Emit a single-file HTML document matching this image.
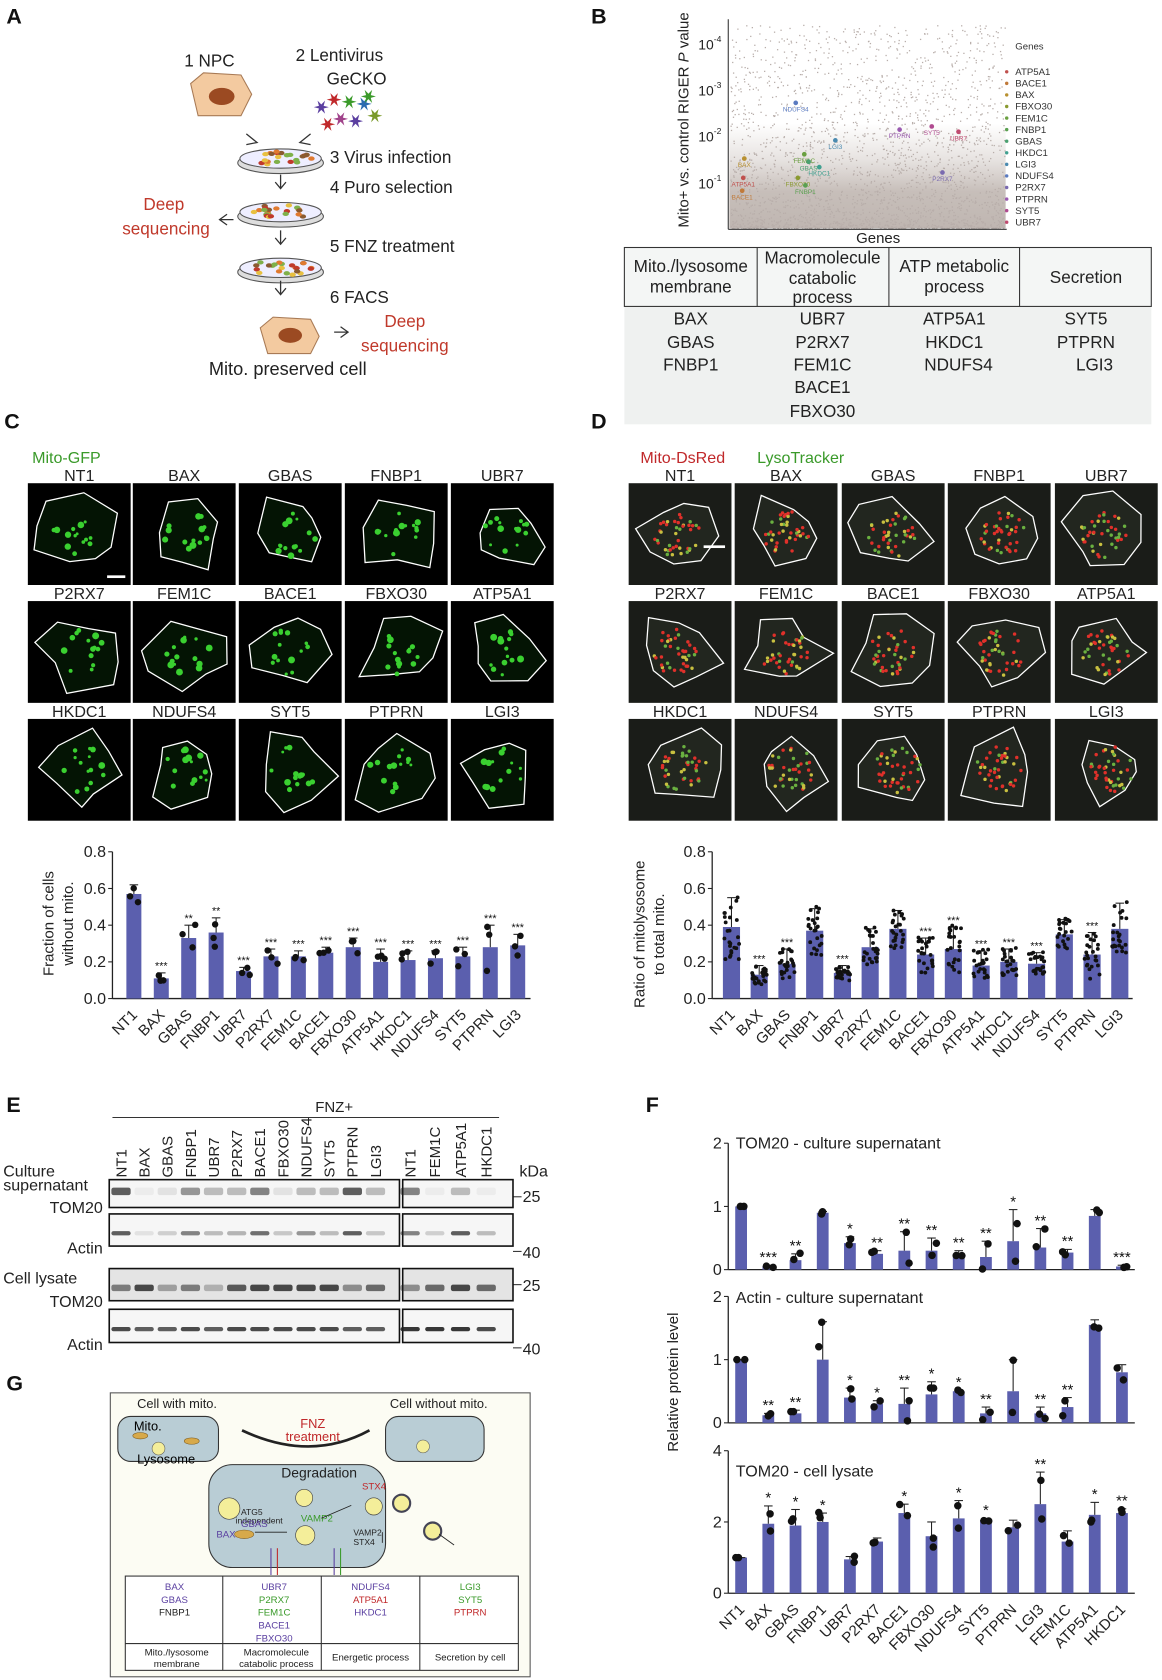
<!DOCTYPE html>
<html><head><meta charset="utf-8">
<style>
html,body{margin:0;padding:0;background:#fff;}
svg{display:block;font-family:"Liberation Sans",sans-serif;}
</style></head>
<body>
<svg id="S" xmlns="http://www.w3.org/2000/svg" width="1162" height="1680" viewBox="0 0 1085 1568" preserveAspectRatio="none">
<rect width="1085" height="1568" fill="#fff"/>
<g font-weight="bold" font-size="20" fill="#111">
<text x="6" y="22">A</text><text x="552" y="22">B</text><text x="4" y="400">C</text>
<text x="552" y="400">D</text><text x="6" y="1038">E</text><text x="603" y="1038">F</text><text x="6" y="1298">G</text>
</g>

<g font-size="16" fill="#222">
<text x="172" y="62">1  NPC</text>
<text x="276" y="57">2  Lentivirus</text><text x="305" y="79">GeCKO</text>
<text x="308" y="152">3  Virus infection</text>
<text x="308" y="180">4  Puro selection</text>
<text x="308" y="235">5  FNZ treatment</text>
<text x="308" y="283">6  FACS</text>
<text x="195" y="350" font-size="17">Mito. preserved cell</text>
</g>
<g font-size="16" fill="#c0392b" text-anchor="middle">
<text x="153" y="196">Deep</text><text x="155" y="219">sequencing</text>
<text x="378" y="305">Deep</text><text x="378" y="328">sequencing</text>
</g>
<polygon points="178,78 190,68 225,70 235,88 225,108 185,108" fill="#f3caa0" stroke="#a87a55"/>
<ellipse cx="207" cy="90" rx="12" ry="8" fill="#9b4a22"/>
<polygon points="243,306 255,296 290,298 298,314 290,330 250,330" fill="#f3caa0" stroke="#a87a55"/>
<ellipse cx="271" cy="313" rx="11" ry="7" fill="#9b4a22"/>
<g id="stars"></g>
<g id="dishes"></g>
<g stroke="#333" fill="none" stroke-width="1.2">
<path d="M230 125 l10 8 l-10 2"/><path d="M290 125 l-10 8 l10 2"/>
<path d="M262 163 v12 M257 170 l5 6 l5 -6"/>
<path d="M262 215 v12 M257 222 l5 6 l5 -6"/>
<path d="M262 262 v12 M257 269 l5 6 l5 -6"/>
<path d="M218 205 l-12 0 M212 200 l-7 5 l7 5"/>
<path d="M312 310 l12 0 M318 305 l7 5 l-7 5"/>
</g>

<defs>
<linearGradient id="gg" x1="0" y1="0" x2="0" y2="1">
<stop offset="0" stop-color="#c9c0bb" stop-opacity="0"/>
<stop offset="0.35" stop-color="#c9c0bb" stop-opacity="0.45"/>
<stop offset="0.65" stop-color="#c4bbb6" stop-opacity="0.95"/>
<stop offset="1" stop-color="#bfb6b1"/>
</linearGradient>
</defs>
<rect x="681" y="115" width="258" height="98" fill="url(#gg)"/>
<g id="scat"></g>
<line x1="680" y1="18" x2="680" y2="214" stroke="#333"/>
<line x1="680" y1="214" x2="940" y2="214" stroke="#333"/>
<g font-size="13" fill="#222">
<text x="652" y="46">10<tspan font-size="8" dy="-7">-4</tspan></text>
<text x="652" y="89">10<tspan font-size="8" dy="-7">-3</tspan></text>
<text x="652" y="132">10<tspan font-size="8" dy="-7">-2</tspan></text>
<text x="652" y="176">10<tspan font-size="8" dy="-7">-1</tspan></text>
</g>
<text transform="translate(643,112) rotate(-90)" text-anchor="middle" font-size="14" fill="#222">Mito+ vs. control RIGER <tspan font-style="italic">P</tspan> value</text>
<text x="820" y="227" text-anchor="middle" font-size="14" fill="#222">Genes</text>
<text x="948" y="46" font-size="9" fill="#333">Genes</text>
<g id="bleg" font-size="9" fill="#333"></g>
<rect x="583" y="286" width="492" height="110" fill="#eff1f0"/>
<rect x="583" y="231" width="492" height="55" fill="#f4f6f5" stroke="#333"/>
<g stroke="#333"><line x1="707" y1="231" x2="707" y2="286"/><line x1="830" y1="231" x2="830" y2="286"/><line x1="952" y1="231" x2="952" y2="286"/></g>
<g font-size="16" fill="#222" text-anchor="middle">
<text x="645" y="254">Mito./lysosome</text><text x="645" y="273">membrane</text>
<text x="768" y="246">Macromolecule</text><text x="768" y="265">catabolic</text><text x="768" y="283">process</text>
<text x="891" y="254">ATP metabolic</text><text x="891" y="273">process</text>
<text x="1014" y="264">Secretion</text>
<text x="645" y="303">BAX</text><text x="645" y="325">GBAS</text><text x="645" y="346">FNBP1</text>
<text x="768" y="303">UBR7</text><text x="768" y="325">P2RX7</text><text x="768" y="346">FEM1C</text><text x="768" y="367">BACE1</text><text x="768" y="389">FBXO30</text>
<text x="891" y="303">ATP5A1</text><text x="891" y="325">HKDC1</text><text x="895" y="346">NDUFS4</text>
<text x="1014" y="303">SYT5</text><text x="1014" y="325">PTPRN</text><text x="1022" y="346">LGI3</text>
</g>

<text x="30" y="432" font-size="15" fill="#3a9a2a">Mito-GFP</text>
<text x="598" y="432" font-size="15" fill="#c0282a">Mito-DsRed</text>
<text x="707" y="432" font-size="15" fill="#3a9a2a">LysoTracker</text>
<g id="imgs"></g>

<g id="charts"></g>
<text transform="translate(50,862) rotate(-90)" text-anchor="middle" font-size="14" fill="#222">Fraction of cells</text>
<text transform="translate(68,862) rotate(-90)" text-anchor="middle" font-size="14" fill="#222">without mito.</text>
<text transform="translate(602,872) rotate(-90)" text-anchor="middle" font-size="14" fill="#222">Ratio of mitolysosome</text>
<text transform="translate(620,872) rotate(-90)" text-anchor="middle" font-size="14" fill="#222">to total mito.</text>
<text transform="translate(633,1290) rotate(-90)" text-anchor="middle" font-size="14" fill="#222">Relative protein level</text>
<g font-size="15" fill="#222">
<text x="687" y="1072">TOM20 - culture supernatant</text>
<text x="687" y="1216">Actin - culture supernatant</text>
<text x="687" y="1378">TOM20 - cell lysate</text>
</g>

<text x="312" y="1038" text-anchor="middle" font-size="14" fill="#222">FNZ+</text>
<line x1="105" y1="1043" x2="466" y2="1043" stroke="#333"/>
<g id="lanes" font-size="14" fill="#222"></g>
<g font-size="15" fill="#222">
<text x="3" y="1098">Culture</text><text x="3" y="1111">supernatant</text>
<text x="96" y="1132" text-anchor="end">TOM20</text>
<text x="96" y="1170" text-anchor="end">Actin</text>
<text x="3" y="1198">Cell lysate</text>
<text x="96" y="1220" text-anchor="end">TOM20</text>
<text x="96" y="1260" text-anchor="end">Actin</text>
<text x="485" y="1098">kDa</text>
<text x="488" y="1122">25</text><text x="488" y="1174">40</text>
<text x="488" y="1205">25</text><text x="488" y="1264">40</text>
</g>
<g stroke="#333"><line x1="479" y1="1117" x2="487" y2="1117"/><line x1="479" y1="1168" x2="487" y2="1168"/><line x1="479" y1="1199" x2="487" y2="1199"/><line x1="479" y1="1258" x2="487" y2="1258"/></g>
<g id="blots"></g>

<rect x="103" y="1300" width="392" height="265" fill="#fcfcf3" stroke="#555"/>
<g font-size="12" fill="#222">
<text x="128" y="1314">Cell with mito.</text><text x="364" y="1314">Cell without mito.</text>
</g>
<rect x="110" y="1322" width="94" height="42" rx="12" fill="#b9cdd5" stroke="#333"/>
<rect x="360" y="1322" width="92" height="42" rx="12" fill="#b9cdd5" stroke="#333"/>
<text x="125" y="1335" font-size="12">Mito.</text><text x="128" y="1366" font-size="12">Lysosome</text>
<ellipse cx="131" cy="1340" rx="7" ry="3" fill="#d7a94a" stroke="#7a5a20" stroke-width=".5"/>
<ellipse cx="179" cy="1345" rx="7" ry="3" fill="#d7a94a" stroke="#7a5a20" stroke-width=".5"/>
<circle cx="148" cy="1352" r="6" fill="#f4ee9a" stroke="#555" stroke-width=".5"/>
<circle cx="395" cy="1350" r="6" fill="#f4ee9a" stroke="#555" stroke-width=".5"/>
<path d="M226 1335 Q290 1365 345 1335" fill="none" stroke="#222" stroke-width="2.5"/>
<text x="292" y="1333" text-anchor="middle" font-size="12" fill="#c0282a">FNZ</text>
<text x="292" y="1345" text-anchor="middle" font-size="12" fill="#c0282a">treatment</text>
<rect x="195" y="1367" width="165" height="96" rx="22" fill="#b9cdd5" stroke="#333"/>
<text x="298" y="1379" text-anchor="middle" font-size="13" fill="#222">Degradation</text>
<g fill="#f4ee9a" stroke="#444" stroke-width=".6">
<circle cx="214" cy="1408" r="10"/><circle cx="284" cy="1398" r="8"/><circle cx="349" cy="1406" r="8"/>
<circle cx="285" cy="1433" r="9"/><circle cx="375" cy="1403" r="8" stroke-width="2" stroke="#445"/><circle cx="404" cy="1429" r="8" stroke-width="2" stroke="#445"/>
</g>
<ellipse cx="228" cy="1432" rx="9" ry="4" fill="#d7a94a" stroke="#7a5a20" stroke-width=".5"/>
<g font-size="8" fill="#222">
<text x="225" y="1414">ATG5</text><text x="220" y="1422">independent</text>
<text x="330" y="1433">VAMP2</text><text x="330" y="1442">STX4</text>
</g>
<text x="202" y="1435" font-size="9" fill="#5a3fa0">BAX</text><text x="225" y="1425" font-size="9" fill="#5a3fa0">GBAS</text>
<text x="281" y="1420" font-size="9" fill="#3a9a2a">VAMP2</text><text x="338" y="1390" font-size="9" fill="#c0282a">STX4</text>
<g stroke="#222" fill="none" stroke-width=".8"><path d="M238 1430 h30"/><path d="M300 1417 l28 -12"/><path d="M357 1430 v10"/><path d="M410 1432 l14 10"/></g>
<g stroke-width="1"><line x1="253" y1="1470" x2="253" y2="1445" stroke="#5a3fa0"/><line x1="259" y1="1470" x2="259" y2="1445" stroke="#c0282a"/><line x1="312" y1="1470" x2="312" y2="1445" stroke="#5a3fa0"/><line x1="318" y1="1470" x2="318" y2="1445" stroke="#3a9a2a"/></g>
<rect x="117" y="1471" width="367" height="88" fill="#fff" stroke="#333"/>
<line x1="117" y1="1534" x2="484" y2="1534" stroke="#333"/>
<g stroke="#333"><line x1="208" y1="1471" x2="208" y2="1559"/><line x1="300" y1="1471" x2="300" y2="1559"/><line x1="392" y1="1471" x2="392" y2="1559"/></g>
<g font-size="9" text-anchor="middle">
<text x="163" y="1484" fill="#5a3fa0">BAX</text><text x="163" y="1496" fill="#5a3fa0">GBAS</text><text x="163" y="1508" fill="#222">FNBP1</text>
<text x="256" y="1484" fill="#5a3fa0">UBR7</text><text x="256" y="1496" fill="#3a9a2a">P2RX7</text><text x="256" y="1508" fill="#3a9a2a">FEM1C</text><text x="256" y="1520" fill="#5a3fa0">BACE1</text><text x="256" y="1532" fill="#5a3fa0">FBXO30</text>
<text x="346" y="1484" fill="#5a3fa0">NDUFS4</text><text x="346" y="1496" fill="#c0282a">ATP5A1</text><text x="346" y="1508" fill="#5a3fa0">HKDC1</text>
<text x="439" y="1484" fill="#3a9a2a">LGI3</text><text x="439" y="1496" fill="#3a9a2a">SYT5</text><text x="439" y="1508" fill="#c0282a">PTPRN</text>
<g fill="#222"><text x="165" y="1545">Mito./lysosome</text><text x="165" y="1556">membrane</text>
<text x="258" y="1545">Macromolecule</text><text x="258" y="1556">catabolic process</text>
<text x="346" y="1550">Energetic process</text><text x="439" y="1550">Secretion by cell</text></g>
</g>
</svg>
<script>
(function(){
var NS="http://www.w3.org/2000/svg";
function el(p,t,a,txt){var e=document.createElementNS(NS,t);for(var k in a)e.setAttribute(k,a[k]);if(txt!==undefined)e.textContent=txt;p.appendChild(e);return e;}
var s=7;function R(){s=(s*16807)%2147483647;return s/2147483647;}
var $=function(i){return document.getElementById(i);};
var sc=["#5b3fa0","#c0282a","#3a9a2a","#2a6ab0","#7a9a2a","#a0428a"];
var st=$("stars");
[[300,100],[312,93],[326,95],[340,97],[350,108],[318,111],[332,113],[306,116],[344,90]].forEach(function(p,i){
 var d="";for(var k=0;k<12;k++){var r=k%2?2.5:7,a=k*Math.PI/6;d+=(k?"L":"M")+(p[0]+r*Math.cos(a)).toFixed(1)+" "+(p[1]+r*Math.sin(a)).toFixed(1);}
 el(st,"path",{d:d+"Z",fill:sc[i%6]});});
var dh=$("dishes");
[148,198,250].forEach(function(y){
 el(dh,"ellipse",{cx:262,cy:y+4,rx:40,ry:10,fill:"#ddd",stroke:"#555"});
 el(dh,"ellipse",{cx:262,cy:y,rx:38,ry:9,fill:"#eef",stroke:"#555"});
 for(var k=0;k<22;k++){var a=R()*6.28,r=Math.sqrt(R());el(dh,"ellipse",{cx:262+30*r*Math.cos(a),cy:y+7*r*Math.sin(a),rx:3,ry:2,fill:["#e07a30","#7fb04a","#c0392b","#e8c040","#8a5a30"][k%5]});}
});
var g=$("scat");
for(var i=0;i<2400;i++){var x=682+R()*256,y=213-Math.pow(R(),2.2)*190;el(g,"rect",{x:x,y:y,width:1.2,height:1.2,fill:"#b8aeaa"});}
var genes=[["ATP5A1","#c0504d"],["BACE1","#c07a3a"],["BAX","#b89030"],["FBXO30","#8a9a30"],["FEM1C","#6aa040"],["FNBP1","#5aa050"],["GBAS","#4aa070"],["HKDC1","#40a090"],["LGI3","#4a8ab0"],["NDUFS4","#5a7ac0"],["P2RX7","#7a6ab0"],["PTPRN","#9a5ab0"],["SYT5","#b04a90"],["UBR7","#c04a70"]];
var bl=$("bleg");genes.forEach(function(q,i){var y=67+i*10.8;el(bl,"circle",{cx:940,cy:y,r:1.6,fill:q[1]});el(bl,"text",{x:948,y:y+3},q[0]);});
[[743,100,"NDUFS4",9],[780,135,"LGI3",8],[694,170,"ATP5A1",0],[693,182,"BACE1",1],[695,152,"BAX",2],[745,170,"FBXO30",3],[751,148,"FEM1C",4],[752,177,"FNBP1",5],[755,155,"GBAS",6],[765,160,"HKDC1",7],[880,165,"P2RX7",10],[840,125,"PTPRN",11],[870,122,"SYT5",12],[895,127,"UBR7",13]].forEach(function(p){
 el(g,"circle",{cx:p[0],cy:p[1]-4,r:2.2,fill:genes[p[3]][1]});el(g,"text",{x:p[0],y:p[1]+4,"font-size":6,"text-anchor":"middle",fill:genes[p[3]][1]},p[2]);});
var im=$("imgs");
var L1=[["NT1","BAX","GBAS","FNBP1","UBR7"],["P2RX7","FEM1C","BACE1","FBXO30","ATP5A1"],["HKDC1","NDUFS4","SYT5","PTPRN","LGI3"]];
var rows=[451,561,671];
function panel(xs,red){
 for(var r=0;r<3;r++)for(var c=0;c<5;c++){
  var x=xs[c],y=rows[r],w=96,h=95;
  el(im,"text",{x:x+w/2,y:y-2,"text-anchor":"middle","font-size":15,fill:"#222"},L1[r][c]);
  el(im,"rect",{x:x,y:y,width:w,height:h,fill:red?"#1a1c18":"#000"});
  var cx=x+w/2+(R()-.5)*10,cy=y+h/2,pts=[];
  for(var k=0;k<8;k++){var a=k*Math.PI/4+R()*.4,rr=22+R()*22;pts.push([cx+rr*Math.cos(a)*1.05,cy+rr*Math.sin(a)*0.95]);}
  pts=pts.map(function(p){return [Math.max(x+3,Math.min(x+w-3,p[0])),Math.max(y+3,Math.min(y+h-3,p[1]))];});
  el(im,"polygon",{points:pts.map(function(p){return p[0].toFixed(1)+","+p[1].toFixed(1)}).join(" "),fill:red?"#22261f":"#041404",stroke:"#fff","stroke-width":1.2});
  var n=red?40:14;
  for(var k=0;k<n;k++){var a=R()*6.28,rr=Math.sqrt(R())*22;
   el(im,"circle",{cx:cx+rr*Math.cos(a),cy:cy+rr*Math.sin(a),r:red?1.6:1.3+R()*2,fill:red?(R()<.5?"#e0302a":(R()<.5?"#c8c040":"#6ab040")):"#3ad030"});}
 }
}
panel([26,124,223,322,421],false);
el(im,"rect",{x:100,y:537,width:17,height:2.5,fill:"#fff"});
panel([587,686,786,885,985],true);
el(im,"rect",{x:657,y:509,width:20,height:2.5,fill:"#fff"});
var ch=$("charts");var bc="#5b5fae";
function chart(o){
 var yy=function(v){return o.y0-v*o.k;};
 el(ch,"line",{x1:o.ax,y1:o.y0,x2:o.ax,y2:yy(o.max),stroke:"#222","stroke-width":1.2});
 el(ch,"line",{x1:o.ax,y1:o.y0,x2:o.x0+o.dx*(o.vals.length-1)+12,y2:o.y0,stroke:"#222","stroke-width":1.2});
 o.ticks.forEach(function(t){el(ch,"line",{x1:o.ax-4,y1:yy(t),x2:o.ax,y2:yy(t),stroke:"#222"});
  el(ch,"text",{x:o.ax-6,y:yy(t)+5,"text-anchor":"end","font-size":15,fill:"#222"},o.fmt(t));});
 o.vals.forEach(function(v,i){var x=o.x0+i*o.dx;
  el(ch,"rect",{x:x-o.bw/2,y:yy(v),width:o.bw,height:v*o.k,fill:bc});
  var e=o.err[i];el(ch,"line",{x1:x,y1:yy(v+e),x2:x,y2:yy(v),stroke:"#222"});
  el(ch,"line",{x1:x-4,y1:yy(v+e),x2:x+4,y2:yy(v+e),stroke:"#222"});
  if(o.nd){for(var k=0;k<o.nd;k++){var vv=Math.max(0.01,v+(R()-.5)*2.2*e);el(ch,"circle",{cx:x+(R()-.5)*o.bw*0.9,cy:yy(vv),r:o.dr,fill:"#111"});}}
  if(o.st[i])el(ch,"text",{x:x,y:yy(v+e)-3,"text-anchor":"middle","font-size":o.sf,fill:"#111"},o.st[i]);
  if(o.labels)el(ch,"text",{transform:"translate("+(x+4)+","+o.ly+") rotate(-45)","text-anchor":"end","font-size":14,fill:"#222"},o.labels[i]);
 });
}
var LC=["NT1","BAX","GBAS","FNBP1","UBR7","P2RX7","FEM1C","BACE1","FBXO30","ATP5A1","HKDC1","NDUFS4","SYT5","PTPRN","LGI3"];
var f1=function(t){return t.toFixed(1);};
chart({ax:105,y0:932,k:171.25,max:0.8,ticks:[0,0.2,0.4,0.6,0.8],fmt:f1,x0:125,dx:25.6,bw:14,
 vals:[0.57,0.11,0.33,0.36,0.15,0.23,0.23,0.25,0.28,0.20,0.21,0.22,0.23,0.28,0.29],
 err:[0.05,0.03,0.07,0.08,0.02,0.04,0.03,0.03,0.05,0.07,0.05,0.04,0.05,0.12,0.06],
 st:["","***","**","**","***","***","***","***","***","***","***","***","***","***","***"],sf:10,nd:3,dr:3,labels:LC,ly:948});
chart({ax:665,y0:932,k:171.25,max:0.8,ticks:[0,0.2,0.4,0.6,0.8],fmt:f1,x0:683,dx:25.9,bw:16,
 vals:[0.39,0.13,0.19,0.37,0.14,0.28,0.38,0.24,0.27,0.18,0.2,0.19,0.35,0.24,0.38],
 err:[0.16,0.05,0.08,0.12,0.04,0.1,0.1,0.09,0.12,0.08,0.07,0.06,0.08,0.12,0.14],
 st:["","***","***","","***","","","***","***","***","***","***","","***",""],sf:10,nd:25,dr:1.8,labels:LC,ly:948});
var LF=["NT1","BAX","GBAS","FNBP1","UBR7","P2RX7","BACE1","FBXO30","NDUFS4","SYT5","PTPRN","LGI3","FEM1C","ATP5A1","HKDC1"];
var f0=function(t){return String(t);};
chart({ax:680,y0:1185,k:59,max:2,ticks:[0,1,2],fmt:f0,x0:692,dx:25.4,bw:11,
 vals:[1.0,0.05,0.15,0.9,0.42,0.25,0.3,0.3,0.25,0.2,0.45,0.35,0.27,0.85,0.05],
 err:[0,0.02,0.1,0.02,0.1,0.05,0.3,0.2,0.05,0.25,0.5,0.3,0.05,0.1,0.02],
 st:["","***","**","","*","**","**","**","**","**","*","**","**","","***"],sf:14,nd:2,dr:3.5});
chart({ax:680,y0:1328,k:59,max:2,ticks:[0,1,2],fmt:f0,x0:692,dx:25.4,bw:11,
 vals:[1.0,0.12,0.15,1.0,0.4,0.3,0.3,0.45,0.5,0.15,0.5,0.15,0.25,1.55,0.8],
 err:[0,0.03,0.05,0.6,0.15,0.05,0.25,0.2,0.02,0.1,0.5,0.1,0.15,0.08,0.12],
 st:["","**","**","","*","*","**","*","*","**","","**","**","",""],sf:14,nd:2,dr:3.5});
chart({ax:680,y0:1487,k:33.25,max:4,ticks:[0,2,4],fmt:f0,x0:692,dx:25.4,bw:11,
 vals:[1.0,1.95,1.9,2.0,0.95,1.45,2.25,1.6,2.1,2.05,1.85,2.5,1.45,2.2,2.25],
 err:[0,0.5,0.45,0.25,0.08,0.1,0.25,0.4,0.5,0.05,0.2,0.9,0.3,0.35,0.12],
 st:["","*","*","*","","","*","","*","*","","**","","*","**"],sf:14,nd:2,dr:3.5,labels:LF,ly:1503});
var ln=$("lanes");
var lx=[];for(var i=0;i<12;i++)lx.push(113+i*21.6);lx=lx.concat([383,406,430,454]);
var LE=["NT1","BAX","GBAS","FNBP1","UBR7","P2RX7","BACE1","FBXO30","NDUFS4","SYT5","PTPRN","LGI3","NT1","FEM1C","ATP5A1","HKDC1"];
LE.forEach(function(t,i){el(ln,"text",{transform:"translate("+(lx[i]+5)+",1099) rotate(-90)"},t);});
var bg=$("blots");
var rowsE=[[1101,1127,[.8,.05,.1,.5,.3,.3,.6,.1,.3,.3,.8,.3,.6,.05,.3,.05],7],[1133,1163,[.8,.1,.2,.6,.3,.35,.7,.25,.5,.3,.8,.25,.6,.2,.8,.3],4],[1184,1214,[.6,.9,.4,.6,.3,.8,.9,.9,.9,.9,.5,.7,.5,.7,.9,.7],6],[1222,1253,[.9,.8,.8,.9,.8,.9,.9,.9,.9,.9,.8,.8,1,1,1,.9],4]];
rowsE.forEach(function(r,ri){
 [[102,373],[376,479]].forEach(function(b){el(bg,"rect",{x:b[0],y:r[0],width:b[1]-b[0],height:r[1]-r[0],fill:ri==2?"#e4e4e4":"#f6f6f6",stroke:"#111","stroke-width":1.5});});
 r[2].forEach(function(v,i){el(bg,"rect",{x:lx[i]-9,y:(r[0]+r[1])/2-r[3]/2+(ri==0?-2:3),width:18,height:r[3],rx:2,fill:"#222","fill-opacity":v*0.9});});
});
})();
</script>
</body></html>
